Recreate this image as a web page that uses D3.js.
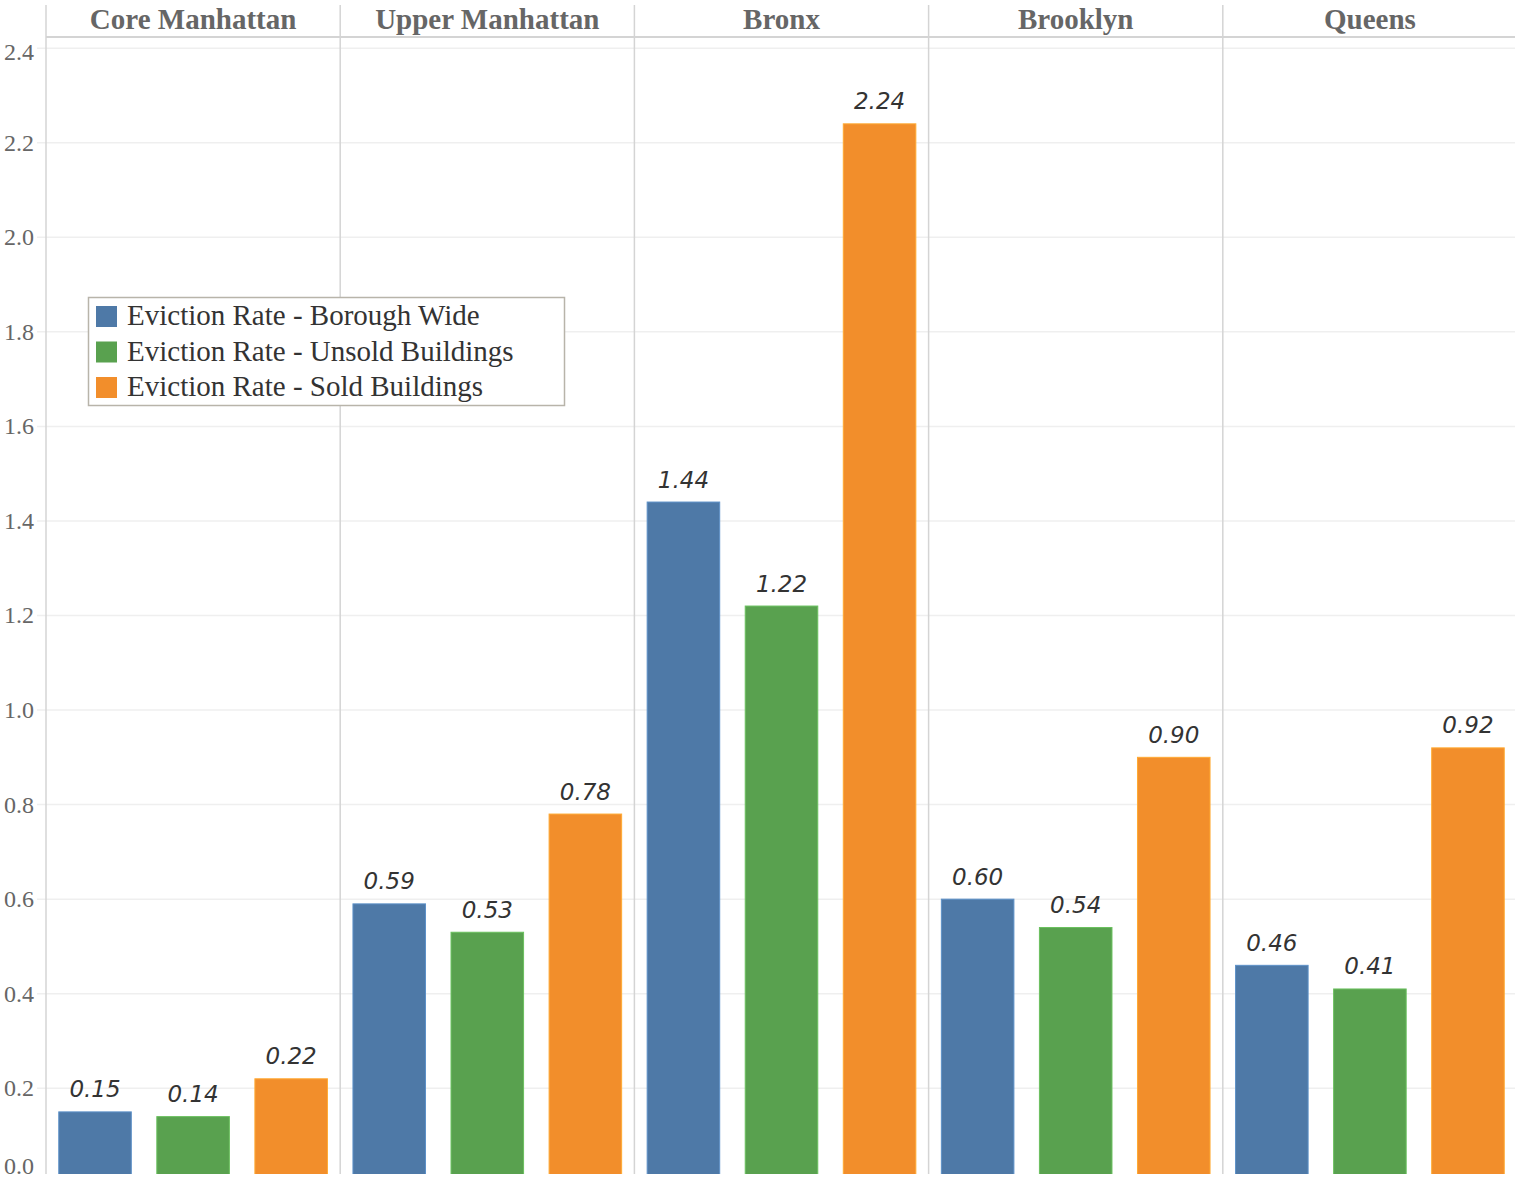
<!DOCTYPE html>
<html><head><meta charset="utf-8">
<script src="https://cdn.jsdelivr.net/npm/d3@7"></script>
<style>html,body{margin:0;padding:0;background:#fff;}svg{display:block;}</style>
</head><body>
<script>
const boroughs = ["Core Manhattan","Upper Manhattan","Bronx","Brooklyn","Queens"];
const seriesNames = ["Eviction Rate - Borough Wide","Eviction Rate - Unsold Buildings","Eviction Rate - Sold Buildings"];
const boroughWide = [0.15,0.59,1.44,0.60,0.46];
const unsoldBuildings = [0.14,0.53,1.22,0.54,0.41];
const soldBuildings = [0.22,0.78,2.24,0.90,0.92];
const yTicks = [0,0.2,0.4,0.6,0.8,1.0,1.2,1.4,1.6,1.8,2.0,2.2,2.4];
const colors = ["#4e79a7","#59a14f","#f28e2b"];

const W = 1515, H = 1181;
const plotTop = 47.7, plotBottom = 1174, headerTop = 5, headerBottom = 37;
const svg = d3.select("body").append("svg").attr("width",W).attr("height",H);
svg.append("rect").attr("width",W).attr("height",H).attr("fill","#fff");

const y = d3.scaleLinear().domain([0,2.4]).range([1182.3, plotTop]);
const xPanel = d3.scaleBand().domain(boroughs).range([46,1517]).padding(0);
const xInner = d3.scaleBand().domain(seriesNames).range([0,xPanel.bandwidth()]).paddingInner(0.25).paddingOuter(0.125);

svg.append("defs").append("clipPath").attr("id","clip")
  .append("rect").attr("x",0).attr("y",0).attr("width",W).attr("height",plotBottom);

// gridlines
svg.append("g").selectAll("line").data(yTicks.filter(d=>d>0)).join("line")
  .attr("x1",37).attr("x2",W).attr("y1",d=>y(d)+0.5).attr("y2",d=>y(d)+0.5)
  .attr("stroke","#efefef").attr("stroke-width",1.5);

// tick labels
svg.append("g").selectAll("text").data(yTicks).join("text")
  .attr("x",34).attr("y",d=>Math.min(Math.max(y(d),52),1166))
  .attr("dy","0.35em").attr("text-anchor","end")
  .attr("font-family","'Liberation Serif', serif").attr("font-size",24).attr("fill","#666")
  .text(d=>d3.format(".1f")(d));

// header bottom line
svg.append("line").attr("x1",46).attr("x2",W).attr("y1",headerBottom).attr("y2",headerBottom)
  .attr("stroke","#d4d4d4").attr("stroke-width",2);

// panel dividers
svg.append("g").selectAll("line").data(boroughs).join("line")
  .attr("x1",d=>xPanel(d)).attr("x2",d=>xPanel(d))
  .attr("y1",headerTop).attr("y2",plotBottom)
  .attr("stroke","#d4d4d4").attr("stroke-width",1.5);

// headers
svg.append("g").selectAll("text").data(boroughs).join("text")
  .attr("x",d=>xPanel(d)+xPanel.bandwidth()/2).attr("y",29)
  .attr("text-anchor","middle").attr("font-family","'Liberation Serif', serif")
  .attr("font-weight","bold").attr("font-size",29).attr("fill","#666")
  .text(d=>d);

// bars
const seriesData = [boroughWide, unsoldBuildings, soldBuildings];
const rows = [];
boroughs.forEach((b,i)=>seriesNames.forEach((s,j)=>rows.push({b,s,j,v:seriesData[j][i]})));

const g = svg.append("g").attr("clip-path","url(#clip)");
g.selectAll("rect").data(rows).join("rect")
  .attr("x",d=>xPanel(d.b)+xInner(d.s)+0.5)
  .attr("y",d=>y(d.v)+0.5)
  .attr("width",xInner.bandwidth()-1)
  .attr("height",d=>y(0)-y(d.v))
  .attr("fill",d=>colors[d.j])
  .attr("stroke",d=>d3.color(colors[d.j]).brighter(0.5))
  .attr("stroke-width",1);

svg.append("g").selectAll("text").data(rows).join("text")
  .attr("x",d=>xPanel(d.b)+xInner(d.s)+xInner.bandwidth()/2)
  .attr("y",d=>y(d.v)-14)
  .attr("text-anchor","middle").attr("font-family","'DejaVu Sans', sans-serif")
  .attr("font-style","italic").attr("font-size",23).attr("fill","#333")
  .text(d=>d3.format(".2f")(d.v));

// legend
const lg = svg.append("g");
lg.append("rect").attr("x",88.5).attr("y",297.5).attr("width",476).attr("height",108)
  .attr("fill","#fff").attr("stroke","#b8b4aa").attr("stroke-width",1.5);
const li = lg.selectAll("g").data(seriesNames).join("g")
  .attr("transform",(d,i)=>`translate(96,${306+i*35.5})`);
li.append("rect").attr("width",21).attr("height",21).attr("fill",(d,i)=>colors[i]);
li.append("text").attr("x",31).attr("y",19)
  .attr("font-family","'Liberation Serif', serif").attr("font-size",29).attr("fill","#333")
  .text(d=>d);
</script>
</body></html>
